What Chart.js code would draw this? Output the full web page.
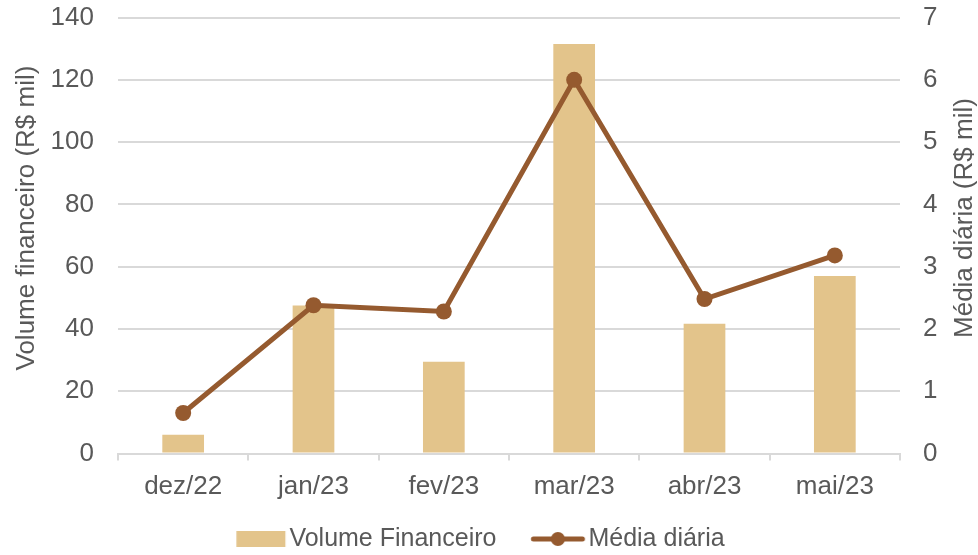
<!DOCTYPE html>
<html lang="pt-BR">
<head>
  <meta charset="UTF-8" />
  <title>Volume financeiro e média diária</title>
  <script src="https://cdn.jsdelivr.net/npm/chart.js"></script>
  <style>
    body {
      margin: 0;
      background: #fff;
    }
    .grafico-container {
      width: 978px;
      height: 555px;
    }
  </style>
</head>
<body>
  <div class="grafico-container">
    <canvas id="grafico" width="978" height="555"></canvas>
  </div>

  <script>
    // dados
    const meses = ['dez/22', 'jan/23', 'fev/23', 'mar/23', 'abr/23', 'mai/23'];
    const volumeFinanceiro = [6, 47.5, 29.5, 131.5, 41.7, 57];
    const mediaDiaria = [0.65, 2.38, 2.28, 6.0, 2.48, 3.18];
    const escalaVolume = { max: 140, passo: 20 };
    const escalaMedia = { max: 7, passo: 1 };

    const corBarra = '#e3c48b';
    const corLinha = '#955a2f';
    const corTexto = '#595959';
    const corGrade = '#d9d9d9';
    const fonte = "'Liberation Sans', Arial, sans-serif";
    const tamFonte = 26;
    const tamLegenda = 25;

    Chart.defaults.font.family = fonte;
    Chart.defaults.font.size = tamFonte;
    Chart.defaults.color = corTexto;

    // deslocamento horizontal: a legenda do Excel não fica centrada no canvas
    const desloc = 26;

    // ícones da legenda (retângulo e linha com marcador)
    // a imagem fica centrada em x + larguraIcone/2; o desenho termina 4px antes do texto
    const larguraIcone = 75.5;
    const espacoItens = 4;
    const larguraImg = 120;
    const fimIcone = larguraImg / 2 + larguraIcone / 2 + tamLegenda / 2 - 4;

    function iconeBarra() {
      const c = document.createElement('canvas');
      c.width = larguraImg;
      c.height = 20;
      const ctx = c.getContext('2d');
      ctx.fillStyle = corBarra;
      ctx.fillRect(fimIcone - 49, 2, 49, 16);
      return c;
    }
    function iconeLinha() {
      const c = document.createElement('canvas');
      c.width = larguraImg;
      c.height = 20;
      const ctx = c.getContext('2d');
      const x0 = fimIcone - 53;
      ctx.strokeStyle = corLinha;
      ctx.lineWidth = 5;
      ctx.lineCap = 'round';
      ctx.beginPath();
      ctx.moveTo(x0 + 2, 10);
      ctx.lineTo(fimIcone - 2, 10);
      ctx.stroke();
      ctx.fillStyle = corLinha;
      ctx.beginPath();
      ctx.arc(x0 + 26.5, 10, 7, 0, Math.PI * 2);
      ctx.fill();
      return c;
    }
    const icones = [iconeBarra(), iconeLinha()];

    // títulos dos eixos (o Excel não os centraliza exatamente na área do gráfico)
    const titulosEixos = {
      id: 'titulosEixos',
      afterDraw(chart) {
        const { ctx, chartArea } = chart;
        const yMeio = chartArea.top + (chartArea.bottom - chartArea.top) * 0.46;
        ctx.save();
        ctx.font = tamFonte + 'px ' + fonte;
        ctx.fillStyle = corTexto;
        ctx.textAlign = 'center';
        ctx.textBaseline = 'middle';

        ctx.save();
        ctx.translate(27, yMeio);
        ctx.rotate(-Math.PI / 2);
        ctx.fillText('Volume financeiro (R$ mil)', 0, 0);
        ctx.restore();

        ctx.save();
        ctx.translate(chart.width - 13, yMeio);
        ctx.rotate(-Math.PI / 2);
        ctx.fillText('Média diária (R$ mil)', 0, 0);
        ctx.restore();

        ctx.restore();
      }
    };

    const dados = {
      labels: meses,
      datasets: [
        {
          type: 'bar',
          label: 'Volume Financeiro',
          data: volumeFinanceiro,
          backgroundColor: corBarra,
          barPercentage: 0.32,
          categoryPercentage: 1,
          yAxisID: 'y',
          order: 1
        },
        {
          type: 'line',
          label: 'Média diária',
          data: mediaDiaria,
          borderColor: corLinha,
          backgroundColor: corLinha,
          borderWidth: 5,
          pointRadius: 8,
          pointBackgroundColor: corLinha,
          pointBorderWidth: 0,
          tension: 0,
          yAxisID: 'y1',
          order: 0
        }
      ]
    };

    const config = {
      type: 'bar',
      data: dados,
      options: {
        responsive: false,
        animation: false,
        layout: {
          padding: { top: 17.5, bottom: -6.5, left: -desloc, right: desloc }
        },
        plugins: {
          tooltip: { enabled: false },
          legend: {
            position: 'bottom',
            labels: {
              color: corTexto,
              font: { size: tamLegenda },
              usePointStyle: true,
              pointStyleWidth: larguraIcone,
              padding: espacoItens,
              generateLabels(chart) {
                const itens = Chart.defaults.plugins.legend.labels.generateLabels(chart);
                itens.sort((a, b) => a.datasetIndex - b.datasetIndex);
                itens.forEach(item => {
                  item.pointStyle = icones[item.datasetIndex];
                  item.fontColor = corTexto;
                });
                return itens;
              }
            }
          }
        },
        scales: {
          x: {
            offset: true,
            grid: {
              offset: true,
              drawOnChartArea: false,
              drawTicks: true,
              tickLength: 7,
              color: corGrade,
              lineWidth: 2
            },
            border: { color: corGrade, width: 2 },
            ticks: { color: corTexto, padding: 11, maxRotation: 0 },
            afterFit(scale) { scale.height = 69; }
          },
          y: {
            position: 'left',
            min: 0,
            max: escalaVolume.max,
            ticks: { stepSize: escalaVolume.passo, color: corTexto, padding: 0 },
            grid: { color: corGrade, lineWidth: 2, drawTicks: true, tickLength: 24, tickColor: 'rgba(0,0,0,0)' },
            border: { display: false },
            afterFit(scale) { scale.width = 118 + desloc; }
          },
          y1: {
            position: 'right',
            min: 0,
            max: escalaMedia.max,
            ticks: { stepSize: escalaMedia.passo, color: corTexto, padding: 0 },
            grid: { display: false, drawTicks: true, tickLength: 23 },
            border: { display: false },
            afterFit(scale) { scale.width = 78 - desloc; }
          }
        }
      },
      plugins: [titulosEixos]
    };

    const ctx = document.getElementById('grafico').getContext('2d');
    const grafico = new Chart(ctx, config);
  </script>
</body>
</html>
